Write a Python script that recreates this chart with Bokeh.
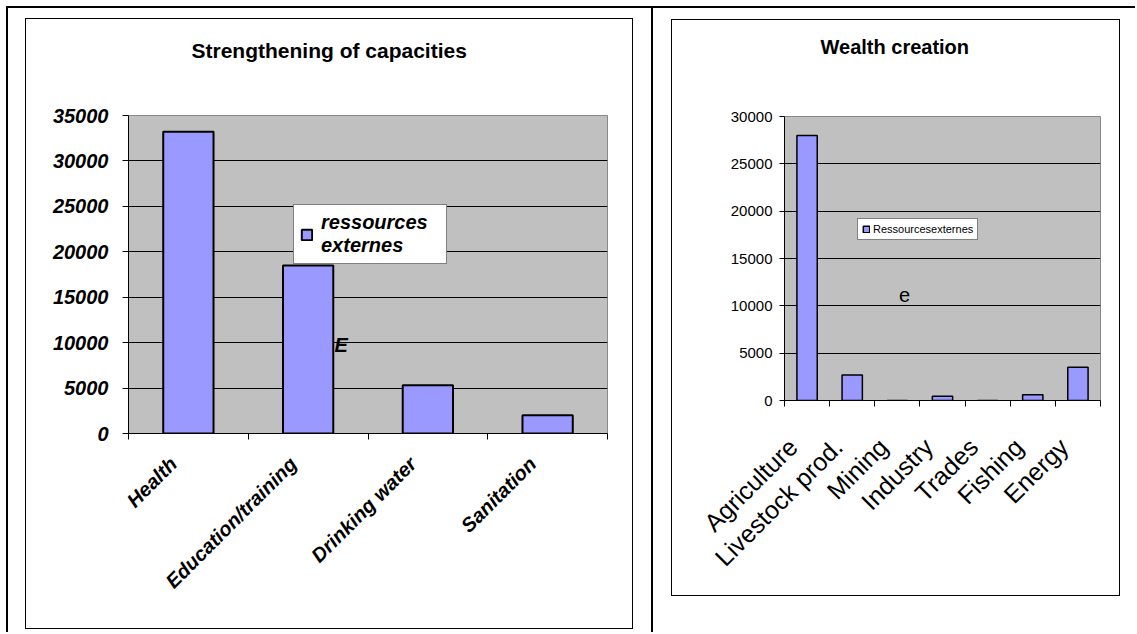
from math import pi

from bokeh.embed import file_html
from bokeh.layouts import row
from bokeh.models import (ColumnDataSource, FactorRange, FixedTicker, Grid, Label,
                          Legend, LegendItem, LinearAxis, Range1d, Spacer, Title)
from bokeh.plotting import figure
from bokeh.resources import INLINE

FONT = "Liberation Sans"
BAR_FILL = "#9999FF"
PLOT_BG = "#C0C0C0"

# Strengthening of capacities
cap_title = "Strengthening of capacities"
cap_categories = ["Health", "Education/training", "Drinking water", "Sanitation"]
cap_values = [33200, 18500, 5300, 2000]
cap_y_ticks = [0, 5000, 10000, 15000, 20000, 25000, 30000, 35000]
cap_series = "ressources\nexternes"

# Wealth creation
wealth_title = "Wealth creation"
wealth_categories = ["Agriculture", "Livestock prod.", "Mining", "Industry",
                     "Trades", "Fishing", "Energy"]
wealth_values = [28000, 2700, 0, 450, 0, 600, 3500]
wealth_y_ticks = [0, 5000, 10000, 15000, 20000, 25000, 30000]
wealth_series = "Ressourcesexternes"


def blank_axis(gap, ticks, tick_color):
    """An axis without labels whose ticks reserve `gap` pixels beside the plot area."""
    return LinearAxis(ticker=FixedTicker(ticks=list(ticks)),
                      axis_line_color=None, major_tick_line_color=tick_color,
                      minor_tick_line_color=None, major_tick_in=0, major_tick_out=gap,
                      major_label_standoff=0, major_label_text_color=None,
                      major_label_text_font_size="1px")


def bar_chart(title, categories, values, y_ticks, *, width, height, borders,
              bar_width, bar_line_width, title_size, title_offset, title_gap,
              ytick_style, ytick_size, ytick_standoff, ytick_out,
              xlabel_style, xlabel_size, xlabel_standoff, xlabel_shift):
    left, right, top, bottom = borders
    p = figure(x_range=FactorRange(*categories), y_range=Range1d(y_ticks[0], y_ticks[-1]),
               width=width, height=height,
               min_border_left=left, min_border_right=right,
               min_border_top=top, min_border_bottom=bottom,
               x_axis_location=None, y_axis_location=None,
               output_backend="svg", toolbar_location=None,
               background_fill_color=PLOT_BG, border_fill_color="white",
               styles={"border": "1px solid #000", "box-sizing": "content-box"})
    p.outline_line_color = "#8a8a8a"
    p.xgrid.grid_line_color = None
    p.ygrid.grid_line_color = None

    # heading sits well above the plot area: white padding first, then the title
    p.add_layout(blank_axis(title_gap, [0], "white"), "above")
    p.add_layout(Title(text=title, align="left", offset=title_offset, standoff=0,
                       vertical_align="bottom", text_font=FONT,
                       text_font_size=f"{title_size}px", text_font_style="bold",
                       text_color="black"), "above")

    src = ColumnDataSource(dict(cat=categories, val=values))
    bars = p.vbar(x="cat", top="val", width=bar_width, source=src,
                  fill_color=BAR_FILL, line_color="black", line_width=bar_line_width)

    # horizontal gridlines (none on the top edge of the plot area)
    p.add_layout(Grid(dimension=1, ticker=FixedTicker(ticks=y_ticks[:-1]),
                      grid_line_color="black", grid_line_width=1))

    yaxis = LinearAxis(ticker=FixedTicker(ticks=y_ticks),
                       axis_line_color="black", major_tick_line_color="black",
                       major_tick_in=0, major_tick_out=ytick_out,
                       minor_tick_line_color=None,
                       major_label_standoff=ytick_standoff,
                       major_label_text_font=FONT,
                       major_label_text_font_size=f"{ytick_size}px",
                       major_label_text_font_style=ytick_style,
                       major_label_text_color="black")
    p.add_layout(yaxis, "left")

    # axis line with tick marks on the boundaries between categories
    edge_axis = blank_axis(6, range(len(categories) + 1), "black")
    edge_axis.axis_line_color = "black"
    p.add_layout(edge_axis, "below")

    # slanted category names, ending just left of each category's centre
    label_ticks = [i + 0.5 - xlabel_shift for i in range(len(categories))]
    cat_axis = LinearAxis(ticker=FixedTicker(ticks=label_ticks),
                          major_label_overrides=dict(zip(label_ticks, categories)),
                          axis_line_color=None, major_tick_line_color=None,
                          major_tick_in=0, major_tick_out=0,
                          minor_tick_line_color=None,
                          major_label_orientation=pi / 4,
                          major_label_standoff=xlabel_standoff,
                          major_label_text_font=FONT,
                          major_label_text_font_size=f"{xlabel_size}px",
                          major_label_text_font_style=xlabel_style,
                          major_label_text_color="black")
    p.add_layout(cat_axis, "below")
    return p, bars


left_fig, left_bars = bar_chart(
    cap_title, cap_categories, cap_values, cap_y_ticks,
    width=606, height=609, borders=(102, 27, 93, 197),
    bar_width=0.42, bar_line_width=2,
    title_size=21, title_offset=63, title_gap=54,
    ytick_style="bold italic", ytick_size=20, ytick_standoff=14, ytick_out=6,
    xlabel_style="bold italic", xlabel_size=20, xlabel_standoff=21, xlabel_shift=0.125)

left_fig.add_layout(Legend(
    items=[LegendItem(label=cap_series, renderers=[left_bars])],
    location=(165, 169), margin=0, padding=6, spacing=0,
    glyph_width=13, glyph_height=13, label_standoff=8, label_width=119,
    label_text_font=FONT, label_text_font_size="20px",
    label_text_font_style="bold italic", label_text_color="black",
    border_line_color="black", border_line_width=1,
    background_fill_color="white", background_fill_alpha=1.0))

left_fig.add_layout(Label(x=206, y=89, x_units="screen", y_units="screen", text="E",
                          text_font=FONT, text_font_size="20px",
                          text_font_style="bold italic", text_baseline="middle",
                          text_color="black"))

right_fig, right_bars = bar_chart(
    wealth_title, wealth_categories, wealth_values, wealth_y_ticks,
    width=447, height=575, borders=(112, 21, 96, 184),
    bar_width=0.45, bar_line_width=1.5,
    title_size=20, title_offset=36, title_gap=59,
    ytick_style="normal", ytick_size=15, ytick_standoff=7, ytick_out=5,
    xlabel_style="normal", xlabel_size=25, xlabel_standoff=36, xlabel_shift=0.3125)

right_fig.add_layout(Legend(
    items=[LegendItem(label=wealth_series, renderers=[right_bars])],
    location=(73, 160), margin=0, padding=4, spacing=0,
    glyph_width=8, glyph_height=8, label_standoff=3, label_height=12,
    label_text_font=FONT, label_text_font_size="11px",
    label_text_color="black",
    border_line_color="black", border_line_width=1,
    background_fill_color="white", background_fill_alpha=1.0))

right_fig.add_layout(Label(x=120, y=106, x_units="screen", y_units="screen", text="e",
                           text_font=FONT, text_font_size="20px",
                           text_align="center", text_baseline="middle",
                           text_color="black"))

left_fig.margin = (10, 18, 0, 17)
right_fig.margin = (11, 15, 0, 18)
divider = Spacer(width=2, height=624, styles={"background-color": "black"})

root = row(left_fig, divider, right_fig, margin=(6, 0, 0, 6),
           styles={"border-top": "2px solid black", "border-left": "2px solid black"})

with open("out.html", "w") as f:
    f.write(file_html(root, INLINE, title="Strengthening of capacities / Wealth creation"))
